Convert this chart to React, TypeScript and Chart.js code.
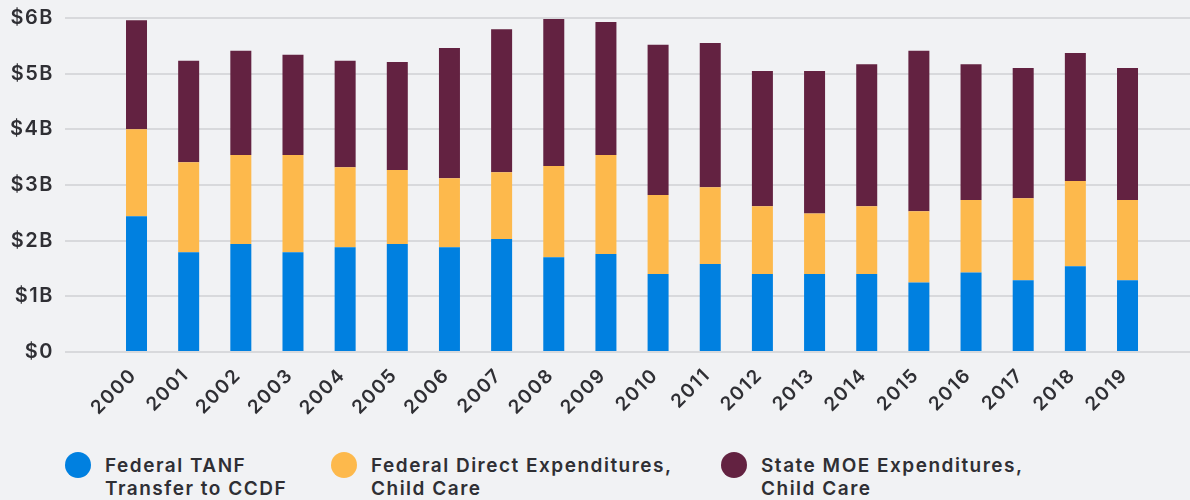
import React, { useEffect, useRef } from "react";
import { Chart, registerables } from "chart.js";

Chart.register(...registerables);

const years = [2000, 2001, 2002, 2003, 2004, 2005, 2006, 2007, 2008, 2009, 2010, 2011, 2012, 2013, 2014, 2015, 2016, 2017, 2018, 2019];
const tanfTransfer = [2.44, 1.79, 1.94, 1.79, 1.88, 1.94, 1.88, 2.03, 1.70, 1.76, 1.40, 1.58, 1.40, 1.40, 1.40, 1.25, 1.43, 1.29, 1.54, 1.29];
const federalDirect = [1.56, 1.62, 1.60, 1.75, 1.44, 1.33, 1.24, 1.20, 1.64, 1.78, 1.42, 1.38, 1.22, 1.09, 1.22, 1.28, 1.30, 1.47, 1.53, 1.44];
const stateMoe = [1.96, 1.82, 1.87, 1.80, 1.91, 1.94, 2.34, 2.57, 2.64, 2.39, 2.70, 2.59, 2.43, 2.56, 2.55, 2.88, 2.44, 2.34, 2.30, 2.37];
const yTicks = [0, 1, 2, 3, 4, 5, 6];

const seriesNames = [
  ["Federal TANF", "Transfer to CCDF"],
  ["Federal Direct Expenditures,", "Child Care"],
  ["State MOE Expenditures,", "Child Care"],
];
const colors = ["#0080e0", "#fdb94c", "#632241"];
const legendLeft = [65, 331, 721];

const BG = "#f1f2f4";
const TEXT = "#2f2f34";
const FONT = "Inter, 'Noto Sans', sans-serif";

const spacingPlugin = {
  id: "letterSpacing",
  beforeInit(chart: any) {
    chart.ctx.letterSpacing = "1.5px";
  },
  beforeUpdate(chart: any) {
    chart.ctx.letterSpacing = "1.5px";
  },
  beforeDraw(chart: any) {
    chart.ctx.letterSpacing = "1.5px";
  },
};

export default function App() {
  const ref = useRef<HTMLCanvasElement | null>(null);

  useEffect(() => {
    document.body.style.margin = "0";
    document.body.style.background = BG;
    const series = [tanfTransfer, federalDirect, stateMoe];
    const chart = new Chart(ref.current as HTMLCanvasElement, {
      type: "bar",
      plugins: [spacingPlugin],
      data: {
        datasets: series.map((vals, i) => ({
          label: seriesNames[i].join(" "),
          data: years.map((yr, j) => ({ x: yr, y: vals[j] })),
          backgroundColor: colors[i],
          borderWidth: 0,
          barPercentage: 0.4026,
          categoryPercentage: 1,
        })),
      },
      options: {
        responsive: false,
        animation: false,
        layout: { padding: { top: 18, left: 0, right: 0, bottom: 0 } },
        plugins: { legend: { display: false }, tooltip: { enabled: false } },
        scales: {
          x: {
            type: "linear",
            stacked: true,
            offset: false,
            min: 1998.629,
            max: 2020.198,
            grid: { display: false, drawTicks: false },
            border: { display: false },
            afterBuildTicks: (scale: any) => {
              scale.ticks = years.map((v) => ({ value: v }));
            },
            afterFit: (scale: any) => {
              scale.height = 440 - 352;
              scale.paddingLeft = 0;
              scale.paddingRight = 0;
            },
            ticks: {
              autoSkip: false,
              maxRotation: 45,
              minRotation: 45,
              padding: 12,
              labelOffset: -3,
              color: TEXT,
              font: { family: FONT, size: 19, weight: 600 },
              callback: (v: any) => String(v),
            },
          },
          y: {
            stacked: true,
            min: 0,
            max: 6,
            afterBuildTicks: (scale: any) => {
              scale.ticks = yTicks.map((v) => ({ value: v }));
            },
            afterFit: (scale: any) => {
              scale.width = 65;
              scale.paddingTop = 0;
              scale.paddingBottom = 0;
            },
            grid: { color: "#d8d9dc", lineWidth: 2, drawTicks: false },
            border: { display: false },
            ticks: {
              padding: 11,
              color: TEXT,
              font: { family: FONT, size: 20, weight: 600 },
              callback: (v: any) => (v === 0 ? "$0" : `$${v}B`),
            },
          },
        },
      },
    });
    return () => chart.destroy();
  }, []);

  return (
    <div style={{ position: "relative", width: 1190, height: 500, background: BG, fontFamily: FONT, overflow: "hidden" }}>
      <canvas ref={ref} width={1190} height={440} style={{ display: "block" }} />
      {seriesNames.map((lines, i) => (
        <div key={i} style={{ position: "absolute", left: legendLeft[i], top: 452, display: "flex", alignItems: "flex-start" }}>
          <div style={{ width: 26, height: 26, borderRadius: "50%", background: colors[i], flex: "none" }} />
          <div style={{ marginLeft: 14, marginTop: 1.5, color: TEXT, fontSize: 19, fontWeight: 600, letterSpacing: "1.5px", lineHeight: "23.3px", whiteSpace: "nowrap" }}>
            {lines.map((l, k) => (
              <div key={k}>{l}</div>
            ))}
          </div>
        </div>
      ))}
    </div>
  );
}
